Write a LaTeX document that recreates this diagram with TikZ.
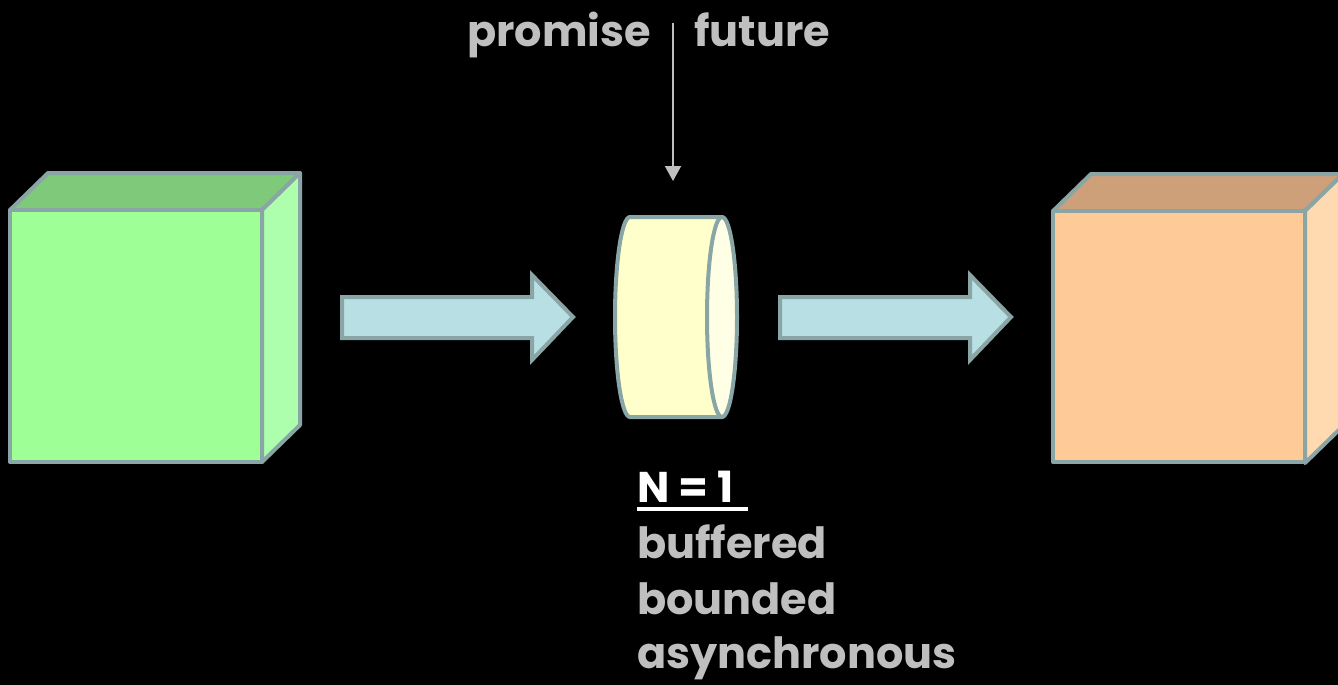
\documentclass[tikz,border=0pt]{standalone}
\usepackage{fontspec}
\setmainfont{Poppins}
\usetikzlibrary{arrows.meta}
\definecolor{edge}{HTML}{8AA5A5}
\definecolor{txt}{HTML}{BFBFBF}
\definecolor{gfront}{HTML}{9EFF96}
\definecolor{gtop}{HTML}{7ECA7A}
\definecolor{gside}{HTML}{ADFFAD}
\definecolor{ofront}{HTML}{FECB98}
\definecolor{otop}{HTML}{CDA07A}
\definecolor{oside}{HTML}{FFD9B0}
\definecolor{cylbody}{HTML}{FFFFCC}
\definecolor{cylend}{HTML}{FFFFE6}
\definecolor{arrfill}{HTML}{B8E0E4}
\tikzset{
  shape edge/.style={draw=edge, line width=4pt, line join=round},
  label text/.style={text=txt, font=\fontsize{43}{50}\selectfont\bfseries, inner sep=0pt},
  pointer/.style={draw=txt, line width=2pt, -{Triangle[length=15pt,width=16pt]}},
}
\begin{document}
\begin{tikzpicture}[x=1pt,y=-1pt]
\useasboundingbox (0,0) rectangle (1338,685);
\fill[black] (0,0) rectangle (1338,685);
% left cube
\coordinate (lc) at (10,210);
\filldraw[shape edge, fill=gtop] (lc) -- ++(38,-37) -- ++(252,0) -- ++(-38,37) -- cycle;
\filldraw[shape edge, fill=gside] ([xshift=252pt]lc) -- ++(38,-37) -- ++(0,252) -- ++(-38,37) -- cycle;
\filldraw[shape edge, fill=gfront] (lc) rectangle ++(252,252);
% right cube
\coordinate (rc) at (1053,211);
\filldraw[shape edge, fill=otop] (rc) -- ++(38,-37) -- ++(252,0) -- ++(-38,37) -- cycle;
\filldraw[shape edge, fill=oside] ([xshift=252pt]rc) -- ++(38,-37) -- ++(0,252) -- ++(-38,37) -- cycle;
\filldraw[shape edge, fill=ofront] (rc) rectangle ++(252,251);
% block arrows
\filldraw[shape edge, line join=miter, fill=arrfill] (342,297) -- (532,297) -- (532,275) -- (573,317) -- (532,360) -- (532,338) -- (342,338) -- cycle;
\filldraw[shape edge, line join=miter, fill=arrfill] (780,297) -- (970,297) -- (970,275) -- (1011,317) -- (970,360) -- (970,338) -- (780,338) -- cycle;
% cylinder
\coordinate (cyl) at (722,317);
\filldraw[shape edge, fill=cylbody] (722,217) -- (630,217) arc[start angle=270, end angle=90, x radius=15, y radius=100] -- (722,417) -- cycle;
\filldraw[shape edge, fill=cylend] (cyl) ellipse[x radius=15, y radius=100];
% labels
\node[label text, anchor=base east] (promise) at (651,47) {promise};
\node[label text, anchor=base west] (future) at (694,47) {future};
\coordinate (ptop) at (673,23);
\coordinate (pend) at (673,181);
\draw[pointer] (ptop) -- (pend);
\node[label text, anchor=base west, text=white] (n1) at (637,502) {N = 1};
\draw[white, line width=4pt] ([yshift=-7pt]n1.base west) -- ([xshift=14pt,yshift=-7pt]n1.base east);
\node[label text, anchor=base west] (buf) at (637,558) {buffered};
\node[label text, anchor=base west] (bnd) at (637,614) {bounded};
\node[label text, anchor=base west] (asy) at (637,668) {asynchronous};
\end{tikzpicture}
\end{document}
